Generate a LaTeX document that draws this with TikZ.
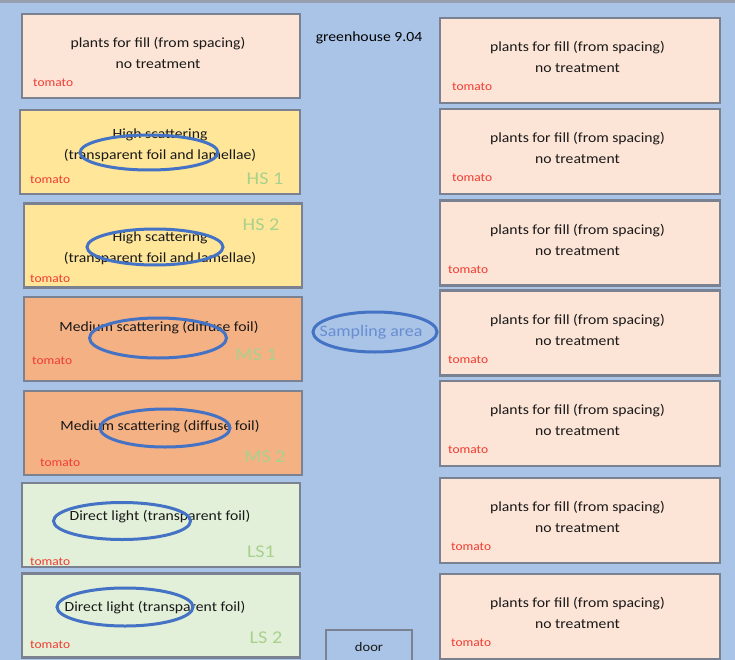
\documentclass[tikz,border=0pt]{standalone}
\usepackage{fontspec}
\setmainfont{Carlito}[FakeStretch=1.12]
\usetikzlibrary{shapes.geometric}
\definecolor{bgblue}{RGB}{169,196,230}
\definecolor{pinkfill}{RGB}{252,228,214}
\definecolor{yellowfill}{RGB}{255,230,153}
\definecolor{orangefill}{RGB}{244,177,131}
\definecolor{greenfill}{RGB}{226,240,217}
\definecolor{boxline}{RGB}{122,130,145}
\definecolor{ringblue}{RGB}{68,114,196}
\definecolor{lblgreen}{RGB}{169,209,142}
\definecolor{tomred}{RGB}{240,60,50}
\definecolor{samptext}{RGB}{105,140,210}
\definecolor{framegray}{RGB}{150,160,175}
\definecolor{inkgray}{RGB}{25,25,25}
\begin{document}
\begin{tikzpicture}[x=1pt,y=-1pt,
  plotbox/.style={draw=boxline, line width=2.2pt, minimum width=278pt, minimum height=84pt, inner sep=0pt},
  maintext/.style={align=center, text=inkgray, font=\fontsize{14}{21}\selectfont, inner sep=0pt},
  tom/.style={anchor=west, text=tomred, font=\fontsize{12}{12}\selectfont, inner sep=0pt},
  plotlabel/.style={text=lblgreen, font=\fontsize{18}{18}\selectfont, inner sep=0pt},
  ring/.style={draw=ringblue, line width=3pt, ellipse, inner sep=0pt}]
\useasboundingbox (0,0) rectangle (735,660);
\fill[bgblue] (0,0) rectangle (735,660);
\draw[framegray, line width=3pt] (0,1.5) -- (735,1.5);

% left column
\node[plotbox, fill=pinkfill] (L1) at (161,56) {};
\node[maintext] (L1t) at (158,53) {plants for fill (from spacing)\\no treatment};
\node[tom] (L1m) at (33,83) {tomato};

\node[plotbox, fill=yellowfill, minimum width=280pt] (L2) at (160,152) {};
\node[maintext] (L2t) at (160,145) {High scattering\\(transparent foil and lamellae)};
\node[tom] (L2m) at (30,180) {tomato};
\node[plotlabel] (L2l) at (265,179) {HS 1};

\node[plotbox, fill=yellowfill] (L3) at (163,245.5) {};
\node[maintext] (L3t) at (160,248) {High scattering\\(transparent foil and lamellae)};
\node[tom] (L3m) at (30,279) {tomato};
\node[plotlabel] (L3l) at (261,225) {HS 2};

\node[plotbox, fill=orangefill] (L4) at (163,339) {};
\node[maintext] (L4t) at (159,328) {Medium scattering (diffuse foil)};
\node[tom] (L4m) at (32,361) {tomato};
\node[plotlabel] (L4l) at (256,355) {MS 1};

\node[plotbox, fill=orangefill] (L5) at (163,433) {};
\node[maintext] (L5t) at (160,427) {Medium scattering (diffuse foil)};
\node[tom] (L5m) at (40,463) {tomato};
\node[plotlabel] (L5l) at (265,457) {MS 2};

\node[plotbox, fill=greenfill] (L6) at (161,525) {};
\node[maintext] (L6t) at (160,517) {Direct light (transparent foil)};
\node[tom] (L6m) at (30,562) {tomato};
\node[plotlabel] (L6l) at (261,552) {LS1};

\node[plotbox, fill=greenfill] (L7) at (161,615.5) {};
\node[maintext] (L7t) at (155,608) {Direct light (transparent foil)};
\node[tom] (L7m) at (30,645) {tomato};
\node[plotlabel] (L7l) at (266,638) {LS 2};

% right column
\foreach \i/\yc/\tx in {1/60.5/452, 2/151.5/452, 3/243/448, 4/333/448, 5/423.5/448, 6/520.5/451, 7/616.5/451}{
  \node[plotbox, fill=pinkfill, minimum width=280pt, minimum height=85pt] (R\i) at (580,\yc) {};
  \node[maintext] (R\i t) at (577.5,\yc-3.5) {plants for fill (from spacing)\\no treatment};
  \node[tom] (R\i m) at (\tx,\yc+26.5) {tomato};
}

% middle
\node[text=black, font=\fontsize{14}{14}\selectfont, inner sep=0pt] (title) at (369,38) {greenhouse 9.04};
\node[text=samptext, font=\fontsize{16}{16}\selectfont, inner sep=0pt] (samp) at (371,332) {Sampling area};
\node[ring, minimum width=124pt, minimum height=40pt] (sampring) at (375,332) {};
\node[draw=boxline, line width=1.8pt, minimum width=86pt, minimum height=32pt, inner sep=0pt] (door) at (369,646) {};
\node[text=inkgray, font=\fontsize{13}{13}\selectfont, inner sep=0pt] (doort) at (369,647) {door};

% marking rings
\node[ring, minimum width=138pt, minimum height=35pt] (E2) at (149,152.5) {};
\node[ring, minimum width=136pt, minimum height=36pt] (E3) at (155,247) {};
\node[ring, minimum width=137pt, minimum height=40pt] (E4) at (158,338) {};
\node[ring, minimum width=130pt, minimum height=38pt] (E5) at (165,428) {};
\node[ring, minimum width=137pt, minimum height=37pt] (E6) at (122,521) {};
\node[ring, minimum width=136pt, minimum height=38pt] (E7) at (125,607) {};
\end{tikzpicture}
\end{document}
